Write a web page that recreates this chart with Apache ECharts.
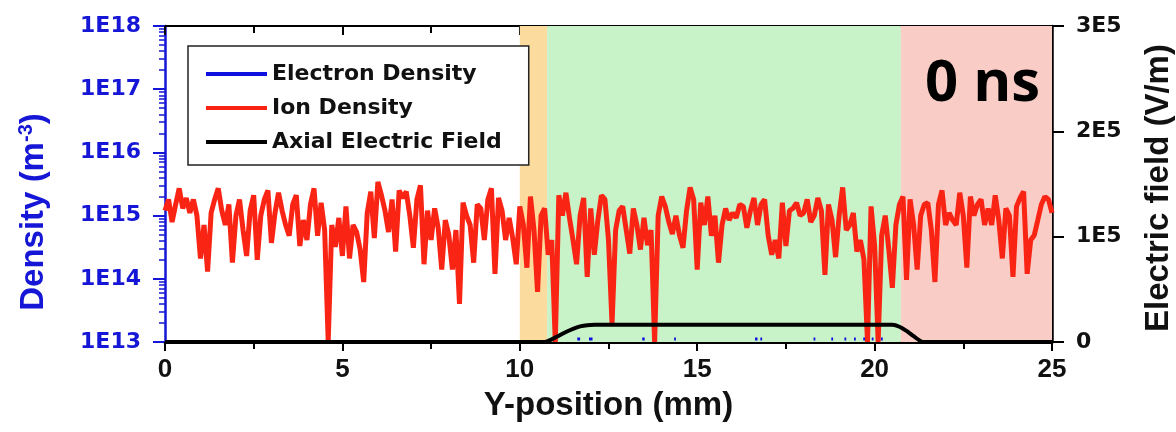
<!DOCTYPE html>
<html>
<head>
<meta charset="utf-8">
<script src="https://cdn.jsdelivr.net/npm/echarts@6/dist/echarts.min.js"></script>
<style>
  html, body { margin: 0; padding: 0; background: #fff; overflow: hidden; }
  #chart { width: 1176px; height: 432px; display: block; }
</style>
</head>
<body>
<div id="chart"></div>
<script>
// Sample spacing of the density profile (mm)
const ionStep = 0.1;

// Ion density along Y (m^-3), one value every 0.1 mm from 0 to 25 mm
const ionDensity = [
  1.2e15, 1.8e15, 7.9e14, 1.5e15, 2.7e15, 1.3e15, 1.9e15, 1.1e15, 1.8e15, 1.0e15,
  2.1e14, 7.1e14, 1.3e14, 1.1e15, 1.8e15, 2.7e15, 1.2e15, 7.1e14, 1.5e15, 1.8e14,
  1.0e15, 1.8e15, 5.9e14, 2.3e14, 1.2e15, 2.1e15, 2.0e14, 1.0e15, 1.8e15, 2.5e15,
  3.7e14, 1.1e15, 2.3e15, 1.2e15, 7.1e14, 4.8e14, 1.5e15, 2.1e15, 3.3e14, 8.5e14,
  4.1e14, 1.5e15, 2.7e15, 4.8e14, 1.6e15, 5.9e14, 1.0e13, 7.1e14, 3.2e14, 9.2e14,
  2.3e14, 1.4e15, 2.1e14, 7.1e14, 5.5e14, 2.9e14, 8.9e13, 1.1e15, 2.4e15, 4.4e14,
  3.4e15, 2.1e15, 1.2e15, 5.5e14, 1.8e15, 2.7e14, 2.5e15, 1.9e15, 2.4e15, 1.0e15,
  3.1e14, 1.8e15, 3.0e15, 1.7e14, 1.2e15, 4.1e14, 1.3e15, 6.4e14, 1.4e14, 8.5e14,
  4.9e14, 1.4e14, 5.9e14, 4.0e13, 1.6e15, 1.0e15, 7.1e14, 1.8e14, 1.5e15, 1.3e15,
  4.1e14, 1.8e15, 2.7e15, 1.2e14, 1.9e15, 1.2e15, 4.1e14, 9.2e14, 4.4e14, 1.7e14,
  1.4e15, 7.1e14, 1.5e14, 2.0e15, 5.9e14, 6.2e13, 1.0e15, 1.3e15, 2.4e14, 4.1e14,
  1.0e13, 2.1e15, 1.0e15, 2.3e15, 9.2e14, 4.1e14, 1.7e14, 1.0e15, 1.9e15, 1.07e14,
  1.3e15, 2.4e14, 8.5e14, 2.1e15, 1.8e15, 4.1e14, 1.9e13, 5.9e14, 1.2e15, 1.4e15,
  5.9e14, 2.5e14, 1.3e15, 7.1e14, 2.9e14, 9.2e14, 3.4e14, 5.9e14, 1.0e13, 1.0e15,
  2.0e15, 1.4e15, 7.9e14, 5.1e14, 1.0e15, 4.9e14, 3.1e14, 1.2e15, 2.8e15, 1.8e15,
  1.4e14, 1.6e15, 7.1e14, 2.0e15, 4.8e14, 1.0e15, 1.8e14, 7.1e14, 1.3e15, 8.5e14,
  1.1e15, 9.2e14, 1.5e15, 1.4e15, 6.4e14, 1.2e15, 1.9e15, 7.1e14, 1.5e15, 1.8e15,
  4.9e14, 2.4e14, 4.1e14, 2.1e14, 1.6e15, 3.3e14, 1.2e15, 1.3e15, 1.6e15, 1.0e15,
  1.1e15, 1.8e15, 7.9e14, 1.0e15, 1.9e15, 1.2e15, 1.15e14, 1.5e15, 8.5e14, 2.2e14,
  1.0e15, 2.8e15, 5.9e14, 7.1e14, 1.1e15, 2.7e14, 4.1e14, 2.0e14, 1.0e13, 1.4e15,
  3.4e14, 1.0e13, 4.9e14, 1.0e15, 2.9e14, 7.2e13, 7.1e14, 1.5e15, 2.0e15, 9.6e13,
  1.8e15, 7.1e14, 1.4e14, 1.0e15, 1.5e15, 1.6e15, 5.9e14, 8.9e13, 1.5e15, 2.5e15,
  7.1e14, 1.1e15, 8.5e14, 7.1e14, 2.3e15, 1.0e15, 1.5e14, 2.0e15, 1.0e15, 1.5e15,
  1.8e15, 7.1e14, 1.3e15, 7.1e14, 2.1e15, 8.5e14, 2.1e14, 1.3e15, 1.0e15, 1.07e14,
  1.4e15, 1.9e15, 2.4e15, 1.2e14, 4.1e14, 4.9e14, 8.5e14, 1.5e15, 2.0e15, 1.8e15,
  1.1e15
];

// Electron density: only a few short traces rise just above the axis floor
const electronPos = [11.62, 11.70, null, 11.95, 12.05, null, 13.45, 13.52, null, 14.35, 14.40, null,
  16.63, 16.70, null, 16.78, 16.83, null, 18.28, 18.33, null, 18.78, 18.83, null,
  19.15, 19.20, null, 19.42, 19.47, null, 19.68, 19.73, null, 19.92, 19.97, null, 20.18, 20.23];
const electronDensity = [1.12e13, 1.12e13, null, 1.12e13, 1.12e13, null, 1.12e13, 1.12e13, null, 1.12e13, 1.12e13, null,
  1.12e13, 1.12e13, null, 1.12e13, 1.12e13, null, 1.12e13, 1.12e13, null, 1.12e13, 1.12e13, null,
  1.12e13, 1.12e13, null, 1.12e13, 1.12e13, null, 1.12e13, 1.12e13, null, 1.12e13, 1.12e13, null, 1.12e13, 1.12e13];

// Axial electric field (V/m)
const fieldPos = [0, 10.7, 10.9, 11.1, 11.3, 11.5, 11.7, 11.9, 12.1, 20.5, 20.7, 20.9, 21.1, 21.3, 21.4, 25];
const fieldVal = [0, 0, 2500, 6000, 9500, 12500, 14800, 16000, 16300, 16300, 14500, 10500, 5500, 800, 0, 0];

// Region boundaries along Y (mm) and their fills
const regionEdges = [10, 10.77, 20.74, 25];
const regionColors = ['#fbdc9e', '#c8f3c8', '#f9cdc6'];

// Axis ranges and ticks
const xTicks = [0, 5, 10, 15, 20, 25];
const densityRange = [1e13, 1e18];
const fieldRange = [0, 3e5];
const fieldStep = 1e5;

const seriesNames = ['Electron Density', 'Ion Density', 'Axial Electric Field'];
const timeLabel = '0 ns';

const BLUE = '#1616d6';
const RED = '#fa2414';
const WIDE = '"DejaVu Sans", "Liberation Sans", Arial, sans-serif';
const PLAIN = '"Liberation Sans", Arial, sans-serif';

const ionData = ionDensity.map((v, i) => [+(i * ionStep).toFixed(2), v]);
const electronData = electronPos.map((p, i) => p === null ? [null, null] : [p, electronDensity[i]]);
const fieldData = fieldPos.map((p, i) => [p, fieldVal[i]]);
const regionData = regionColors.map((c, i) => [
  { xAxis: regionEdges[i], itemStyle: { color: c } },
  { xAxis: regionEdges[i + 1] }
]);

const chart = echarts.init(document.getElementById('chart'), null, { renderer: 'canvas', width: 1176, height: 432 });

chart.setOption({
  animation: false,
  backgroundColor: '#ffffff',
  grid: { left: 165, right: 124, top: 26, bottom: 90, containLabel: false, outerBoundsMode: 'none' },
  legend: {
    data: seriesNames,
    orient: 'vertical',
    left: 188,
    top: 46,
    padding: [17, 27, 12, 18],
    itemWidth: 61,
    itemHeight: 4,
    itemGap: 12,
    icon: 'rect',
    backgroundColor: '#ffffff',
    borderColor: '#222',
    borderWidth: 1.5,
    borderRadius: 0,
    textStyle: { fontFamily: WIDE, fontWeight: 'bold', fontSize: 22, color: '#111', lineHeight: 21 }
  },
  xAxis: [
    {
      type: 'value', min: xTicks[0], max: xTicks[xTicks.length - 1], interval: xTicks[1] - xTicks[0],
      position: 'bottom',
      axisLine: { show: true, onZero: false, lineStyle: { color: '#000', width: 3 } },
      axisTick: { show: true, inside: false, length: 9, lineStyle: { color: '#000', width: 2 } },
      minorTick: { show: true, splitNumber: 2, length: 7, lineStyle: { color: '#000', width: 2 } },
      splitLine: { show: false },
      axisLabel: { fontFamily: PLAIN, fontWeight: 'bold', fontSize: 26, color: '#111', margin: 15 },
      name: 'Y-position (mm)', nameLocation: 'middle', nameGap: 47,
      nameTextStyle: { fontFamily: PLAIN, fontWeight: 'bold', fontSize: 33, color: '#111' }
    },
    {
      type: 'value', min: xTicks[0], max: xTicks[xTicks.length - 1], interval: xTicks[1] - xTicks[0],
      position: 'top',
      axisLine: { show: true, onZero: false, lineStyle: { color: '#000', width: 2 } },
      axisTick: { show: true, inside: true, length: 9, lineStyle: { color: '#000', width: 2 } },
      minorTick: { show: true, splitNumber: 2, length: 7, lineStyle: { color: '#000', width: 2 } },
      splitLine: { show: false },
      axisLabel: { show: false }
    }
  ],
  yAxis: [
    {
      type: 'log', logBase: 10, min: densityRange[0], max: densityRange[1],
      position: 'left',
      axisLine: { show: true, onZero: false, lineStyle: { color: BLUE, width: 2.5 } },
      axisTick: { show: true, inside: false, length: 12, lineStyle: { color: BLUE, width: 2 } },
      minorTick: { show: true, splitNumber: 9, length: 6, lineStyle: { color: BLUE, width: 1.5 } },
      splitLine: { show: false },
      axisLabel: {
        fontFamily: WIDE, fontWeight: 'bold', fontSize: 22, color: BLUE, margin: 24,
        formatter: v => '1E' + Math.round(Math.log10(v))
      },
      name: 'Density (m{sup|-3})', nameLocation: 'middle', nameRotate: 90, nameGap: 114,
      nameTextStyle: {
        fontFamily: PLAIN, fontWeight: 'bold', fontSize: 33, color: BLUE, padding: [0, 56, 0, 0],
        rich: { sup: { fontFamily: PLAIN, fontWeight: 'bold', fontSize: 20, color: BLUE, verticalAlign: 'top', padding: [0, 0, 15, 0] } }
      }
    },
    {
      type: 'value', min: fieldRange[0], max: fieldRange[1], interval: fieldStep,
      position: 'right',
      axisLine: { show: true, onZero: false, lineStyle: { color: '#000', width: 2.5 } },
      axisTick: { show: true, inside: false, length: 12, lineStyle: { color: '#000', width: 2 } },
      splitLine: { show: false },
      axisLabel: {
        fontFamily: WIDE, fontWeight: 'bold', fontSize: 22, color: '#111', margin: 24,
        formatter: v => v === 0 ? '0' : Math.round(v / fieldStep) + 'E5'
      },
      name: 'Electric field (V/m)', nameLocation: 'middle', nameRotate: 90, nameGap: 90,
      nameTextStyle: { fontFamily: PLAIN, fontWeight: 'bold', fontSize: 33, color: '#111', padding: [0, 8, 0, 0] }
    }
  ],
  series: [
    {
      name: 'regions', type: 'line', xAxisIndex: 0, yAxisIndex: 1, data: [], z: 1, silent: true,
      markArea: { silent: true, data: regionData }
    },
    {
      name: seriesNames[0], type: 'line', xAxisIndex: 0, yAxisIndex: 0, z: 4,
      data: electronData, showSymbol: false, symbol: 'none', connectNulls: false,
      lineStyle: { color: '#1010e0', width: 3 }, itemStyle: { color: '#1010e0' }
    },
    {
      name: seriesNames[1], type: 'line', xAxisIndex: 0, yAxisIndex: 0, z: 3,
      data: ionData, showSymbol: false, symbol: 'none',
      lineStyle: { color: RED, width: 5, join: 'bevel' }, itemStyle: { color: RED }
    },
    {
      name: seriesNames[2], type: 'line', xAxisIndex: 0, yAxisIndex: 1, z: 5,
      data: fieldData, showSymbol: false, symbol: 'none', smooth: 0.3,
      lineStyle: { color: '#000', width: 4 }, itemStyle: { color: '#000' }
    }
  ],
  graphic: [
    {
      type: 'text', left: 925, top: 55, z: 10,
      style: { text: timeLabel, font: 'bold 58px "Open Sans", "Noto Sans", sans-serif', fill: '#000' }
    }
  ]
});
</script>
</body>
</html>
